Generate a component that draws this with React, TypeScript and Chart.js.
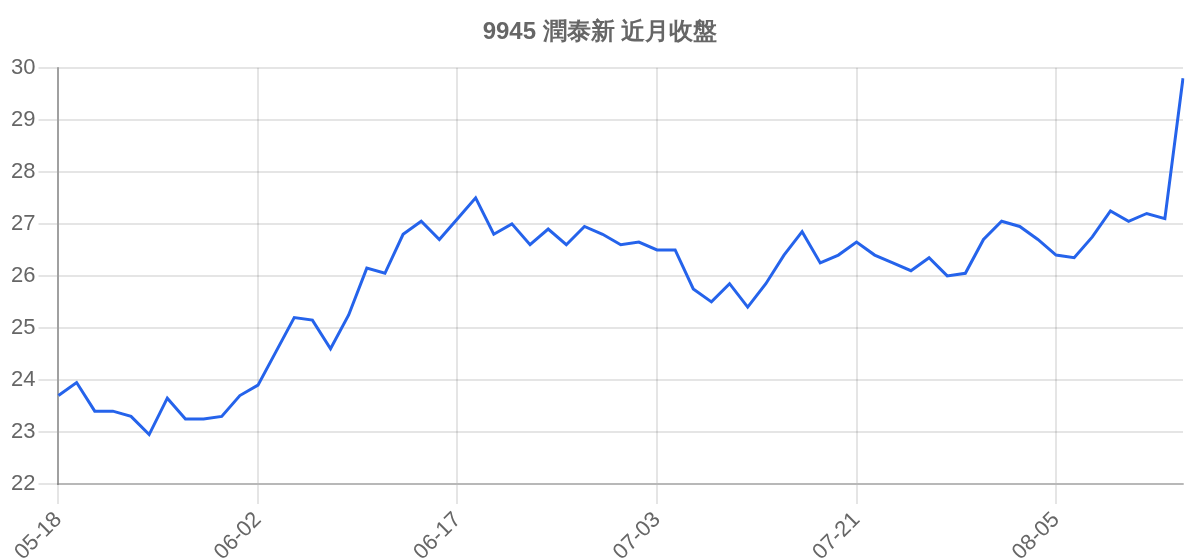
import { useRef, useEffect } from 'react';
import { Chart, registerables } from 'chart.js';

Chart.register(...registerables);

// Fechas de cotización (días hábiles)
const dates = [
  '05-18', '05-19', '05-20', '05-21', '05-22', '05-25', '05-26', '05-27', '05-28', '05-29', '06-01',
  '06-02', '06-03', '06-04', '06-05', '06-08', '06-09', '06-10', '06-11', '06-12', '06-15', '06-16',
  '06-17', '06-18', '06-19', '06-20', '06-22', '06-23', '06-24', '06-29', '06-30', '07-01', '07-02',
  '07-03', '07-06', '07-07', '07-08', '07-09', '07-10', '07-14', '07-15', '07-16', '07-17', '07-20',
  '07-21', '07-22', '07-23', '07-24', '07-27', '07-28', '07-29', '07-30', '07-31', '08-03', '08-04',
  '08-05', '08-06', '08-07', '08-10', '08-11', '08-12', '08-13', '08-14'
];

// Precios de cierre
const closes = [
  23.7, 23.95, 23.4, 23.4, 23.3, 22.95, 23.65, 23.25, 23.25, 23.3, 23.7,
  23.9, 24.55, 25.2, 25.15, 24.6, 25.25, 26.15, 26.05, 26.8, 27.05, 26.7,
  27.1, 27.5, 26.8, 27.0, 26.6, 26.9, 26.6, 26.95, 26.8, 26.6, 26.65,
  26.5, 26.5, 25.75, 25.5, 25.85, 25.4, 25.85, 26.4, 26.85, 26.25, 26.4,
  26.65, 26.4, 26.25, 26.1, 26.35, 26.0, 26.05, 26.7, 27.05, 26.95, 26.7,
  26.4, 26.35, 26.75, 27.25, 27.05, 27.2, 27.1, 29.8
];

const chartTitle = '9945 潤泰新 近月收盤';
const yMin = 22;
const yMax = 30;

const FONT = "'Liberation Sans', Arial, sans-serif";
const TEXT_COLOR = '#666';

const PriceChart = () => {
  const chartRef = useRef<HTMLCanvasElement>(null);
  const chartInstance = useRef<Chart | null>(null);

  useEffect(() => {
    if (!chartRef.current) return;
    if (chartInstance.current) {
      chartInstance.current.destroy();
    }

    chartInstance.current = new Chart(chartRef.current, {
      type: 'line',
      data: {
        labels: dates,
        datasets: [{
          label: chartTitle,
          data: closes,
          borderColor: '#2563eb',
          backgroundColor: '#2563eb',
          borderWidth: 3,
          tension: 0,
          pointRadius: 0,
          fill: false
        }]
      },
      options: {
        responsive: true,
        maintainAspectRatio: false,
        animation: false,
        plugins: {
          legend: { display: false },
          title: {
            display: true,
            text: chartTitle,
            color: TEXT_COLOR,
            font: { family: FONT, size: 24, weight: 'bold' },
            padding: { top: 10, bottom: 21 }
          },
          tooltip: { enabled: false }
        },
        scales: {
          x: {
            grid: {
              color: 'rgba(0, 0, 0, 0.1)',
              lineWidth: 2,
              tickLength: 20
            },
            border: { color: 'rgba(0, 0, 0, 0.2)', width: 2 },
            ticks: {
              color: TEXT_COLOR,
              font: { family: FONT, size: 22 },
              maxRotation: 45,
              minRotation: 45,
              autoSkip: true,
              maxTicksLimit: 6
            },
            // altura del eje y margen derecho como en la imagen original
            afterFit: (scale: any) => {
              scale.height = 76;
              scale.paddingRight = 9;
            }
          },
          y: {
            min: yMin,
            max: yMax,
            grid: {
              color: 'rgba(0, 0, 0, 0.1)',
              lineWidth: 2,
              tickLength: 20
            },
            border: { color: 'rgba(0, 0, 0, 0.3)', width: 2 },
            ticks: {
              color: TEXT_COLOR,
              font: { family: FONT, size: 22 },
              stepSize: 1,
              padding: 3
            }
          }
        }
      }
    });

    return () => {
      if (chartInstance.current) {
        chartInstance.current.destroy();
        chartInstance.current = null;
      }
    };
  }, []);

  return (
    <div style={{ position: 'relative', height: '552px' }}>
      <canvas ref={chartRef}></canvas>
    </div>
  );
};

export default function App() {
  return <PriceChart />;
}
